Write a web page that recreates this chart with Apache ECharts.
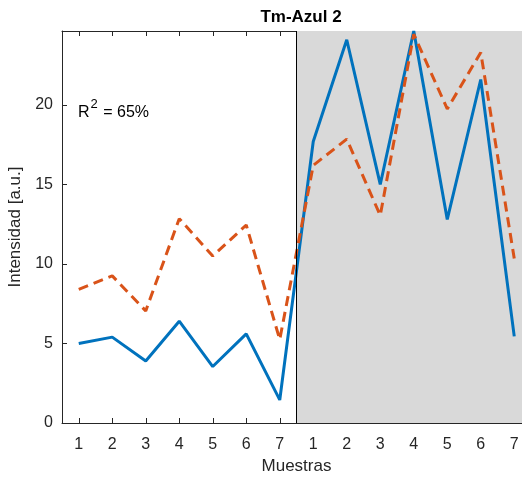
<!DOCTYPE html>
<html>
<head>
<meta charset="utf-8">
<script src="https://cdn.jsdelivr.net/npm/echarts@6/dist/echarts.min.js"></script>
<style>html,body{margin:0;padding:0;background:#fff}#c{width:522px;height:481px}</style>
</head>
<body>
<div id="c"></div>
<script>
var positions = [1,2,3,4,5,6,7,8,9,10,11,12,13,14];
var tickLabels = ['1','2','3','4','5','6','7','1','2','3','4','5','6','7'];
var blueSeries = [5.0, 5.4, 3.9, 6.4, 3.55, 5.6, 1.45, 17.7, 24.1, 15.0, 24.65, 12.8, 21.6, 5.45];
var orangeSeries = [8.4, 9.25, 7.05, 12.85, 10.5, 12.45, 5.25, 16.2, 17.85, 13.05, 24.45, 19.75, 23.3, 10.35];
var yTicks = [0, 5, 10, 15, 20];
var shadeRange = [7.5, 14.5];
var annotation = 'R{sup|2} = 65%';

var FONT = '"Liberation Sans", Arial, Helvetica, sans-serif';
var AX = '#262626';

var chart = echarts.init(document.getElementById('c'), null, {renderer: 'canvas'});

function pairs(arr) { return arr.map(function (v, i) { return [positions[i], v]; }); }
function labelFor(v) {
  var i = positions.indexOf(Math.round(v));
  return i >= 0 ? tickLabels[i] : '';
}

chart.setOption({
  animation: false,
  backgroundColor: '#ffffff',
  title: {
    text: 'Tm-Azul 2',
    left: 296, top: 4, textAlign: 'center',
    textStyle: {fontFamily: FONT, fontSize: 17, fontWeight: 'bold', color: '#000'}
  },
  grid: {left: 62, width: 469, top: 31, bottom: 58, containLabel: false, outerBoundsMode: 'none'},
  xAxis: [{
    type: 'value', min: 0.5, max: 14.5, position: 'bottom',
    name: 'Muestras', nameLocation: 'middle', nameGap: 34,
    nameTextStyle: {fontFamily: FONT, fontSize: 17, color: AX},
    axisLine: {show: true, onZero: false, lineStyle: {color: AX, width: 1}},
    axisTick: {show: true, inside: true, length: 5, customValues: positions, lineStyle: {color: AX}},
    axisLabel: {show: true, customValues: positions, formatter: labelFor, margin: 14,
      fontFamily: FONT, fontSize: 16, color: AX},
    splitLine: {show: false}
  }, {
    type: 'value', min: 0.5, max: 14.5, position: 'top',
    axisLine: {show: true, onZero: false, lineStyle: {color: AX, width: 1}},
    axisTick: {show: true, inside: true, length: 5, customValues: positions, lineStyle: {color: AX}},
    axisLabel: {show: false},
    splitLine: {show: false}
  }],
  yAxis: {
    type: 'value', min: 0, max: 24.65,
    name: 'Intensidad [a.u.]', nameLocation: 'middle', nameGap: 33,
    nameTextStyle: {fontFamily: FONT, fontSize: 17, color: AX},
    axisLine: {show: true, onZero: false, lineStyle: {color: AX, width: 1}},
    axisTick: {show: true, inside: true, length: 5, customValues: yTicks, lineStyle: {color: AX}},
    axisLabel: {show: true, customValues: yTicks, margin: 9, fontFamily: FONT, fontSize: 16, color: AX},
    splitLine: {show: false}
  },
  series: [{
    type: 'line', name: 'shade', data: [], silent: true,
    markArea: {
      silent: true,
      itemStyle: {color: '#d9d9d9', opacity: 1},
      data: [[{xAxis: shadeRange[0]}, {xAxis: shadeRange[1]}]]
    },
    markLine: {
      silent: true, symbol: 'none', label: {show: false},
      lineStyle: {color: '#000', type: 'solid', width: 1},
      data: [{xAxis: shadeRange[0]}]
    },
    z: 1
  }, {
    type: 'line', name: 'blue', data: pairs(blueSeries),
    showSymbol: false, symbol: 'none', clip: false,
    lineStyle: {color: '#0072BD', width: 3},
    z: 3
  }, {
    type: 'line', name: 'orange', data: pairs(orangeSeries),
    showSymbol: false, symbol: 'none', clip: false,
    lineStyle: {color: '#D95319', width: 3, type: [10, 6]},
    z: 4
  }],
  graphic: [{
    type: 'text', left: 78, top: 98, z: 10,
    style: {
      text: annotation,
      fontFamily: FONT, fontSize: 16, fill: '#000',
      rich: {
        sup: {fontSize: 13, fontFamily: FONT, fill: '#000', lineHeight: 30, verticalAlign: 'top', padding: [0, 1, 0, 1]}
      },
      lineHeight: 30
    }
  }]
});
</script>
</body>
</html>
